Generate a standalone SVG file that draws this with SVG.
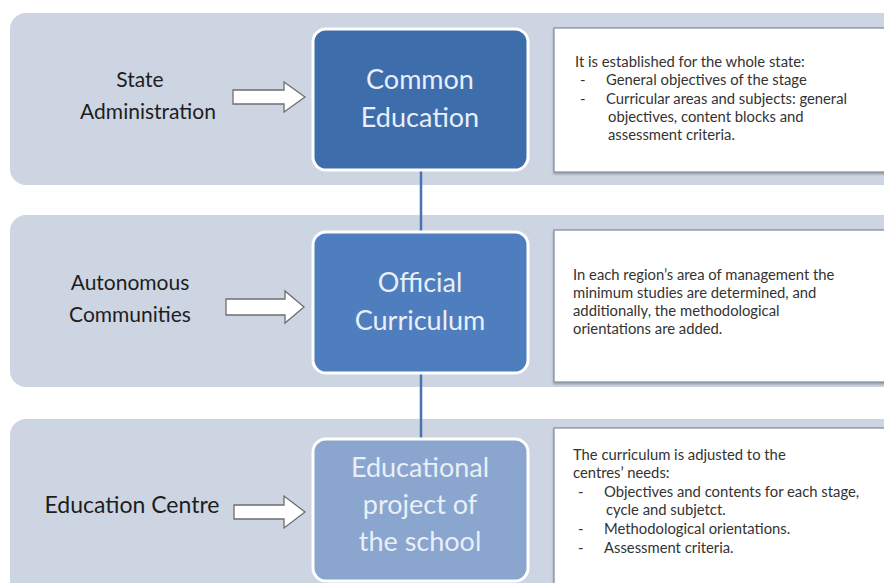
<svg xmlns="http://www.w3.org/2000/svg" width="884" height="583" viewBox="0 0 884 583">
<defs>
<style>
.band{fill:#CDD5E3;}
.node{stroke:#FFFFFF;stroke-width:3;}
.lbl{font-family:Lato,"Liberation Sans",sans-serif;font-size:21px;fill:#1E1E1E;text-anchor:middle;}
.ntx{font-family:Lato,"Liberation Sans",sans-serif;font-size:27px;fill:#E9EFF8;text-anchor:middle;}
.note{fill:#FFFFFF;stroke:#7F8A9A;stroke-width:1.2;}
.ntext{font-family:Lato,"Liberation Sans",sans-serif;font-size:14.8px;fill:#333333;}
.arrow{fill:#FFFFFF;stroke:#6E6E6E;stroke-width:1.3;}
.conn{stroke:#4A74AE;stroke-width:2.5;fill:none;}
</style>
<filter id="sh" x="-5%" y="-5%" width="110%" height="115%">
<feDropShadow dx="0" dy="1.5" stdDeviation="1.2" flood-color="#000" flood-opacity="0.3"/>
</filter>
</defs>
<rect width="884" height="583" fill="#FFFFFF"/>

<rect class="band" x="10" y="13" width="900" height="172" rx="16"/>
<rect class="band" x="10" y="215" width="900" height="172" rx="16"/>
<rect class="band" x="10" y="419" width="900" height="200" rx="16"/>

<g id="connectors">
<line class="conn" x1="421" y1="170" x2="421" y2="232"/>
<line class="conn" x1="421" y1="373" x2="421" y2="439"/>
</g>

<g id="state-administration">
<text class="lbl" x="140" y="87">State</text>
<text class="lbl" x="148" y="119">Administration</text>
<path class="arrow" d="M233,90 L284,90 L284,82 L305,97 L284,112 L284,104 L233,104 Z"/>
</g>

<g id="common-education">
<rect class="node" x="313" y="29" width="215" height="141" rx="13" fill="#3E6DAC"/>
<text class="ntx" x="420" y="89">Common</text>
<text class="ntx" x="420" y="127">Education</text>
</g>

<g id="note-1">
<rect class="note" x="554" y="28" width="340" height="144" filter="url(#sh)"/>
<text class="ntext" x="575" y="67">It is established for the whole state:</text>
<text class="ntext" x="580" y="85">-</text>
<text class="ntext" x="606" y="85">General objectives of the stage</text>
<text class="ntext" x="580" y="104">-</text>
<text class="ntext" x="606" y="104">Curricular areas and subjects: general</text>
<text class="ntext" x="608" y="122">objectives, content blocks and</text>
<text class="ntext" x="608" y="140">assessment criteria.</text>
</g>

<g id="autonomous-communities">
<text class="lbl" x="130" y="290">Autonomous</text>
<text class="lbl" x="130" y="322">Communities</text>
<path class="arrow" d="M226,299 L285,299 L285,291 L304,307 L285,323 L285,315 L226,315 Z"/>
</g>

<g id="official-curriculum">
<rect class="node" x="313" y="232" width="215" height="141" rx="13" fill="#4F7EBE"/>
<text class="ntx" x="420" y="292">Official</text>
<text class="ntx" x="420" y="330">Curriculum</text>
</g>

<g id="note-2">
<rect class="note" x="554" y="230" width="340" height="152" filter="url(#sh)"/>
<text class="ntext" x="573" y="280">In each region’s area of management the</text>
<text class="ntext" x="573" y="298">minimum studies are determined, and</text>
<text class="ntext" x="573" y="316">additionally, the methodological</text>
<text class="ntext" x="573" y="334">orientations are added.</text>
</g>

<g id="education-centre">
<text class="lbl" x="132" y="513" style="font-size:23px">Education Centre</text>
<path class="arrow" d="M234,505 L284,505 L284,496 L305,512 L284,528 L284,519 L234,519 Z"/>
</g>

<g id="educational-project">
<rect class="node" x="313" y="439" width="215" height="142" rx="13" fill="#8AA5CE"/>
<text class="ntx" x="420" y="477">Educational</text>
<text class="ntx" x="420" y="514">project of</text>
<text class="ntx" x="420" y="551">the school</text>
</g>

<g id="note-3">
<rect class="note" x="554" y="428" width="340" height="200" filter="url(#sh)"/>
<text class="ntext" x="573" y="460">The curriculum is adjusted to the</text>
<text class="ntext" x="573" y="478">centres’ needs:</text>
<text class="ntext" x="578" y="497">-</text>
<text class="ntext" x="604" y="497">Objectives and contents for each stage,</text>
<text class="ntext" x="606" y="515">cycle and subjetct.</text>
<text class="ntext" x="578" y="534">-</text>
<text class="ntext" x="604" y="534">Methodological orientations.</text>
<text class="ntext" x="578" y="553">-</text>
<text class="ntext" x="604" y="553">Assessment criteria.</text>
</g>
</svg>
